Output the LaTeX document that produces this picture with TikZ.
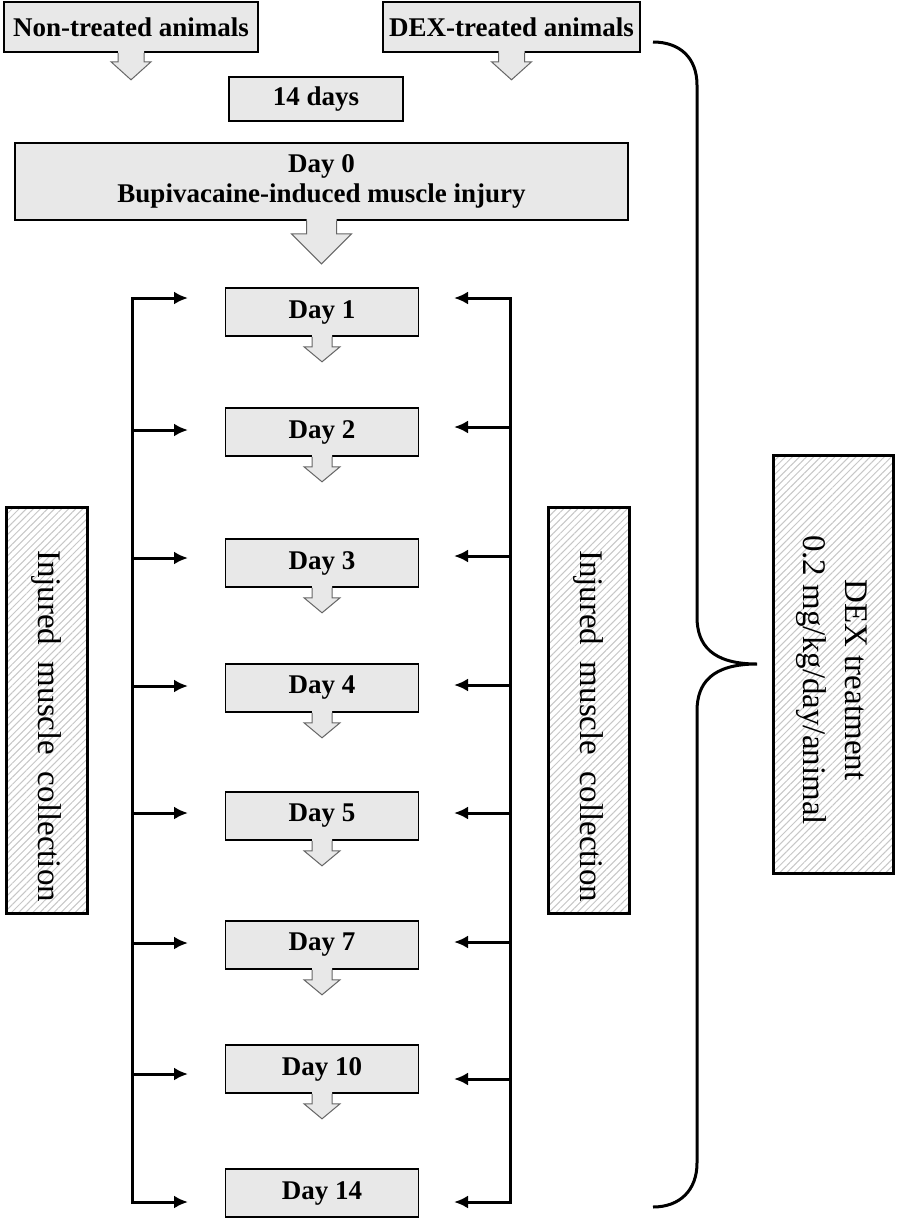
\documentclass[tikz,border=0pt]{standalone}
\usepackage{fontspec}
\setmainfont{Liberation Serif}
\usetikzlibrary{arrows.meta,patterns.meta}
\tikzset{
  daybox/.style={draw, line width=0.8pt, fill=black!9, inner sep=0pt, align=center,
    font=\bfseries\fontsize{13.5}{15}\selectfont},
  sidebox/.style={draw, line width=1.5pt, pattern={Lines[angle=45,distance=2.5pt,line width=0.5pt]},
    pattern color=black!22, inner sep=0pt, rotate=-90, align=center,
    font=\fontsize{16.5}{21}\selectfont},
  conn/.style={line width=1.5pt},
  tipped/.style={-{Latex[length=7pt,width=6.5pt]}},
  pics/downarr/.style n args={4}{code={
    \fill[black!9] (-#1,-2) -- (-#1,#3) -- (-#2,#3) -- (0,#4) -- (#2,#3) -- (#1,#3) -- (#1,-2) -- cycle;
    \draw[black!60, line width=0.5pt] (-#1,0) -- (-#1,#3) -- (-#2,#3) -- (0,#4) -- (#2,#3) -- (#1,#3) -- (#1,0);
  }}
}
\begin{document}
\begin{tikzpicture}[x=0.5pt,y=-0.5pt]
\fill[white] (0,0) rectangle (896,1221);
\useasboundingbox (0,0) rectangle (896,1221);

\node[daybox, minimum width=127pt, minimum height=25pt] (nontr) at (131,27) {Non-treated animals};
\node[daybox, minimum width=128.5pt, minimum height=25pt] (dextr) at (511.5,27) {DEX-treated animals};
\node[daybox, minimum width=87pt, minimum height=22pt] (days) at (316,99) {14 days};
\node[daybox, minimum width=306.5pt, minimum height=38.5pt] (d0) at (321.5,181.5) {Day 0\\Bupivacaine-induced muscle injury};

\node[daybox, minimum width=96.5pt, minimum height=24pt] (d1) at (322,312) {Day 1};
\node[daybox, minimum width=96.5pt, minimum height=24pt] (d2) at (322,432) {Day 2};
\node[daybox, minimum width=96.5pt, minimum height=24pt] (d3) at (322,563) {Day 3};
\node[daybox, minimum width=96.5pt, minimum height=24pt] (d4) at (322,688) {Day 4};
\node[daybox, minimum width=96.5pt, minimum height=24pt] (d5) at (322,816) {Day 5};
\node[daybox, minimum width=96.5pt, minimum height=24pt] (d7) at (322,945) {Day 7};
\node[daybox, minimum width=96.5pt, minimum height=24pt] (d10) at (322,1069) {Day 10};
\node[daybox, minimum width=96.5pt, minimum height=24pt] (d14) at (322,1193) {Day 14};

\pic at (nontr.south) {downarr={13}{20}{9}{27}};
\pic at (dextr.south) {downarr={13}{20}{9}{27}};
\pic at (d0.south) {downarr={15}{30}{13}{43}};
\pic at (d1.south) {downarr={10}{18}{10}{25}};
\pic at (d2.south) {downarr={10}{18}{10}{25}};
\pic at (d3.south) {downarr={10}{18}{10}{25}};
\pic at (d4.south) {downarr={10}{18}{10}{25}};
\pic at (d5.south) {downarr={10}{18}{10}{25}};
\pic at (d7.south) {downarr={10}{18}{10}{25}};
\pic at (d10.south) {downarr={10}{18}{10}{25}};

\node[sidebox, minimum width=203pt, minimum height=40.5pt] (coll1) at (46.5,710) {\hspace*{16pt}Injured~ muscle~ collection};
\node[sidebox, minimum width=203pt, minimum height=40.5pt] (coll2) at (588.5,710) {\hspace*{16pt}Injured~ muscle~ collection};
\node[sidebox, minimum width=209pt, minimum height=60pt] (dex) at (833,664)
  {\hspace*{16pt}\begin{tabular}{@{}c@{}}DEX treatment\\0.2 mg/kg/day/animal\end{tabular}};

% left collection line
\coordinate (la1) at (132,298);   \coordinate (lh1) at (188,298);
\coordinate (la2) at (132,430);   \coordinate (lh2) at (188,430);
\coordinate (la3) at (132,558);   \coordinate (lh3) at (188,558);
\coordinate (la4) at (132,686);   \coordinate (lh4) at (188,686);
\coordinate (la5) at (132,813);   \coordinate (lh5) at (188,813);
\coordinate (la7) at (132,943);   \coordinate (lh7) at (188,943);
\coordinate (la10) at (132,1074); \coordinate (lh10) at (188,1074);
\coordinate (la14) at (132,1202); \coordinate (lh14) at (188,1202);

\path[draw,conn,tipped] (la14) -- (la1) -- (lh1);
\path[draw,conn,tipped] (la1) |- (lh14);
\path[draw,conn,tipped] (la2) -- (lh2);
\path[draw,conn,tipped] (la3) -- (lh3);
\path[draw,conn,tipped] (la4) -- (lh4);
\path[draw,conn,tipped] (la5) -- (lh5);
\path[draw,conn,tipped] (la7) -- (lh7);
\path[draw,conn,tipped] (la10) -- (lh10);

% right collection line
\coordinate (ra1) at (510,298);   \coordinate (rh1) at (454,298);
\coordinate (ra2) at (510,427);   \coordinate (rh2) at (454,427);
\coordinate (ra3) at (510,556);   \coordinate (rh3) at (454,556);
\coordinate (ra4) at (510,685);   \coordinate (rh4) at (454,685);
\coordinate (ra5) at (510,813);   \coordinate (rh5) at (454,813);
\coordinate (ra7) at (510,942);   \coordinate (rh7) at (454,942);
\coordinate (ra10) at (510,1079); \coordinate (rh10) at (454,1079);
\coordinate (ra14) at (510,1202); \coordinate (rh14) at (454,1202);

\path[draw,conn,tipped] (ra14) -- (ra1) -- (rh1);
\path[draw,conn,tipped] (ra1) |- (rh14);
\path[draw,conn,tipped] (ra2) -- (rh2);
\path[draw,conn,tipped] (ra3) -- (rh3);
\path[draw,conn,tipped] (ra4) -- (rh4);
\path[draw,conn,tipped] (ra5) -- (rh5);
\path[draw,conn,tipped] (ra7) -- (rh7);
\path[draw,conn,tipped] (ra10) -- (rh10);

% brace
\path[draw,conn] (653,42) .. controls (680,42) and (697,58) .. (697,85) -- (697,617)
  .. controls (697,645) and (712,664) .. (757,664)
  .. controls (712,664) and (697,683) .. (697,711) -- (697,1163)
  .. controls (697,1190) and (680,1207) .. (653,1207);
\end{tikzpicture}
\end{document}
